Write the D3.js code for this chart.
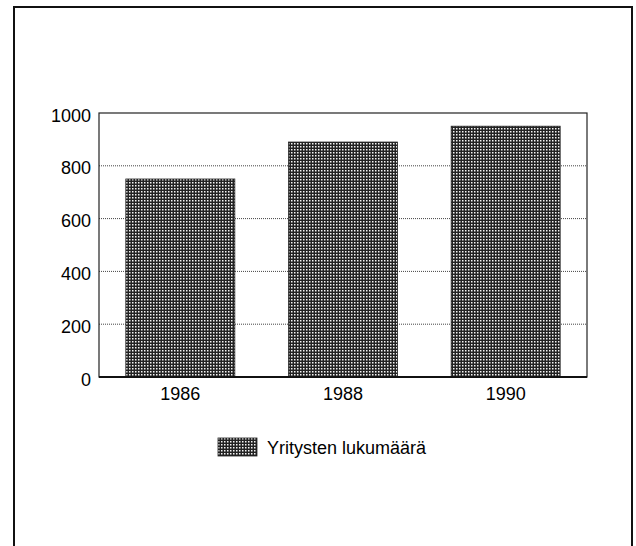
<!DOCTYPE html>
<html>
<head>
<meta charset="utf-8">
<script src="https://cdn.jsdelivr.net/npm/d3@7"></script>
<style>
  body { margin: 0; background: #fff; }
  text { font-family: "Liberation Sans", Arial, sans-serif; fill: #000; }
</style>
</head>
<body>
<div id="chart"></div>
<script>
// Data
var years = ["1986", "1988", "1990"];
var counts = [750, 890, 950];
var yTicks = [0, 200, 400, 600, 800, 1000];
var legendLabel = "Yritysten lukumäärä";

var w = 636; // page width
var h = 546; // page height
var margin = { top: 113, right: 49, bottom: 169, left: 99 };
var innerW = w - margin.left - margin.right;
var innerH = h - margin.top - margin.bottom;

var svg = d3.select("#chart")
            .append("svg")
            .attr("width", w)
            .attr("height", h);

// Checkered fill for bars
var pat = svg.append("defs")
             .append("pattern")
             .attr("id", "checker")
             .attr("patternUnits", "userSpaceOnUse")
             .attr("width", 3)
             .attr("height", 3);
pat.append("rect").attr("width", 3).attr("height", 3).attr("fill", "#222");
pat.append("rect").attr("width", 1.5).attr("height", 1.5).attr("fill", "#f4f4f4");

// Outer frame (open at the bottom)
svg.append("path")
   .attr("d", "M14,546 L14,7 L632,7 L632,546")
   .attr("fill", "none")
   .attr("stroke", "#111")
   .attr("stroke-width", 2);

var g = svg.append("g")
           .attr("transform", `translate(${margin.left}, ${margin.top})`);

// Scales
var x = d3.scaleBand()
          .domain(years)
          .range([0, innerW])
          .paddingInner(0.33)
          .paddingOuter(0.165);
var y = d3.scaleLinear().domain([0, 1000]).range([innerH, 0]);

// Dotted gridlines
g.selectAll(".grid")
 .data(yTicks.filter(function(d) { return d > 0 && d < 1000; }))
 .enter()
 .append("line")
 .attr("class", "grid")
 .attr("x1", 0)
 .attr("x2", innerW)
 .attr("y1", function(d) { return y(d); })
 .attr("y2", function(d) { return y(d); })
 .attr("stroke", "#444")
 .attr("stroke-width", 1)
 .attr("stroke-dasharray", "1,1");

// Bars
g.selectAll(".bar")
 .data(counts)
 .enter()
 .append("rect")
 .attr("class", "bar")
 .attr("x", function(d, i) { return x(years[i]); })
 .attr("y", function(d) { return y(d); })
 .attr("width", x.bandwidth())
 .attr("height", function(d) { return innerH - y(d); })
 .attr("fill", "url(#checker)")
 .attr("stroke", "#222")
 .attr("stroke-width", 0.8);

// Plot box
g.append("rect")
 .attr("width", innerW)
 .attr("height", innerH)
 .attr("fill", "none")
 .attr("stroke", "#222")
 .attr("stroke-width", 1.2);
g.append("line")
 .attr("x1", 0).attr("x2", innerW)
 .attr("y1", innerH).attr("y2", innerH)
 .attr("stroke", "#111")
 .attr("stroke-width", 2);

// Axes
var yAxis = g.append("g")
             .call(d3.axisLeft(y).tickValues(yTicks).tickFormat(d3.format("d")).tickSize(0).tickPadding(8));
yAxis.select(".domain").remove();
yAxis.selectAll("text")
     .attr("dy", "0.45em")
     .style("font-size", "18px");

var xAxis = g.append("g")
             .attr("transform", `translate(0, ${innerH})`)
             .call(d3.axisBottom(x).tickSize(0).tickPadding(10));
xAxis.select(".domain").remove();
xAxis.selectAll("text")
     .style("font-size", "18px");

// Legend
var legend = svg.append("g").attr("transform", "translate(218, 438)");
legend.append("rect")
      .attr("width", 39)
      .attr("height", 18)
      .attr("fill", "url(#checker)")
      .attr("stroke", "#222")
      .attr("stroke-width", 0.8);
legend.append("text")
      .attr("x", 49)
      .attr("y", 16)
      .style("font-size", "18px")
      .text(legendLabel);
</script>
</body>
</html>
